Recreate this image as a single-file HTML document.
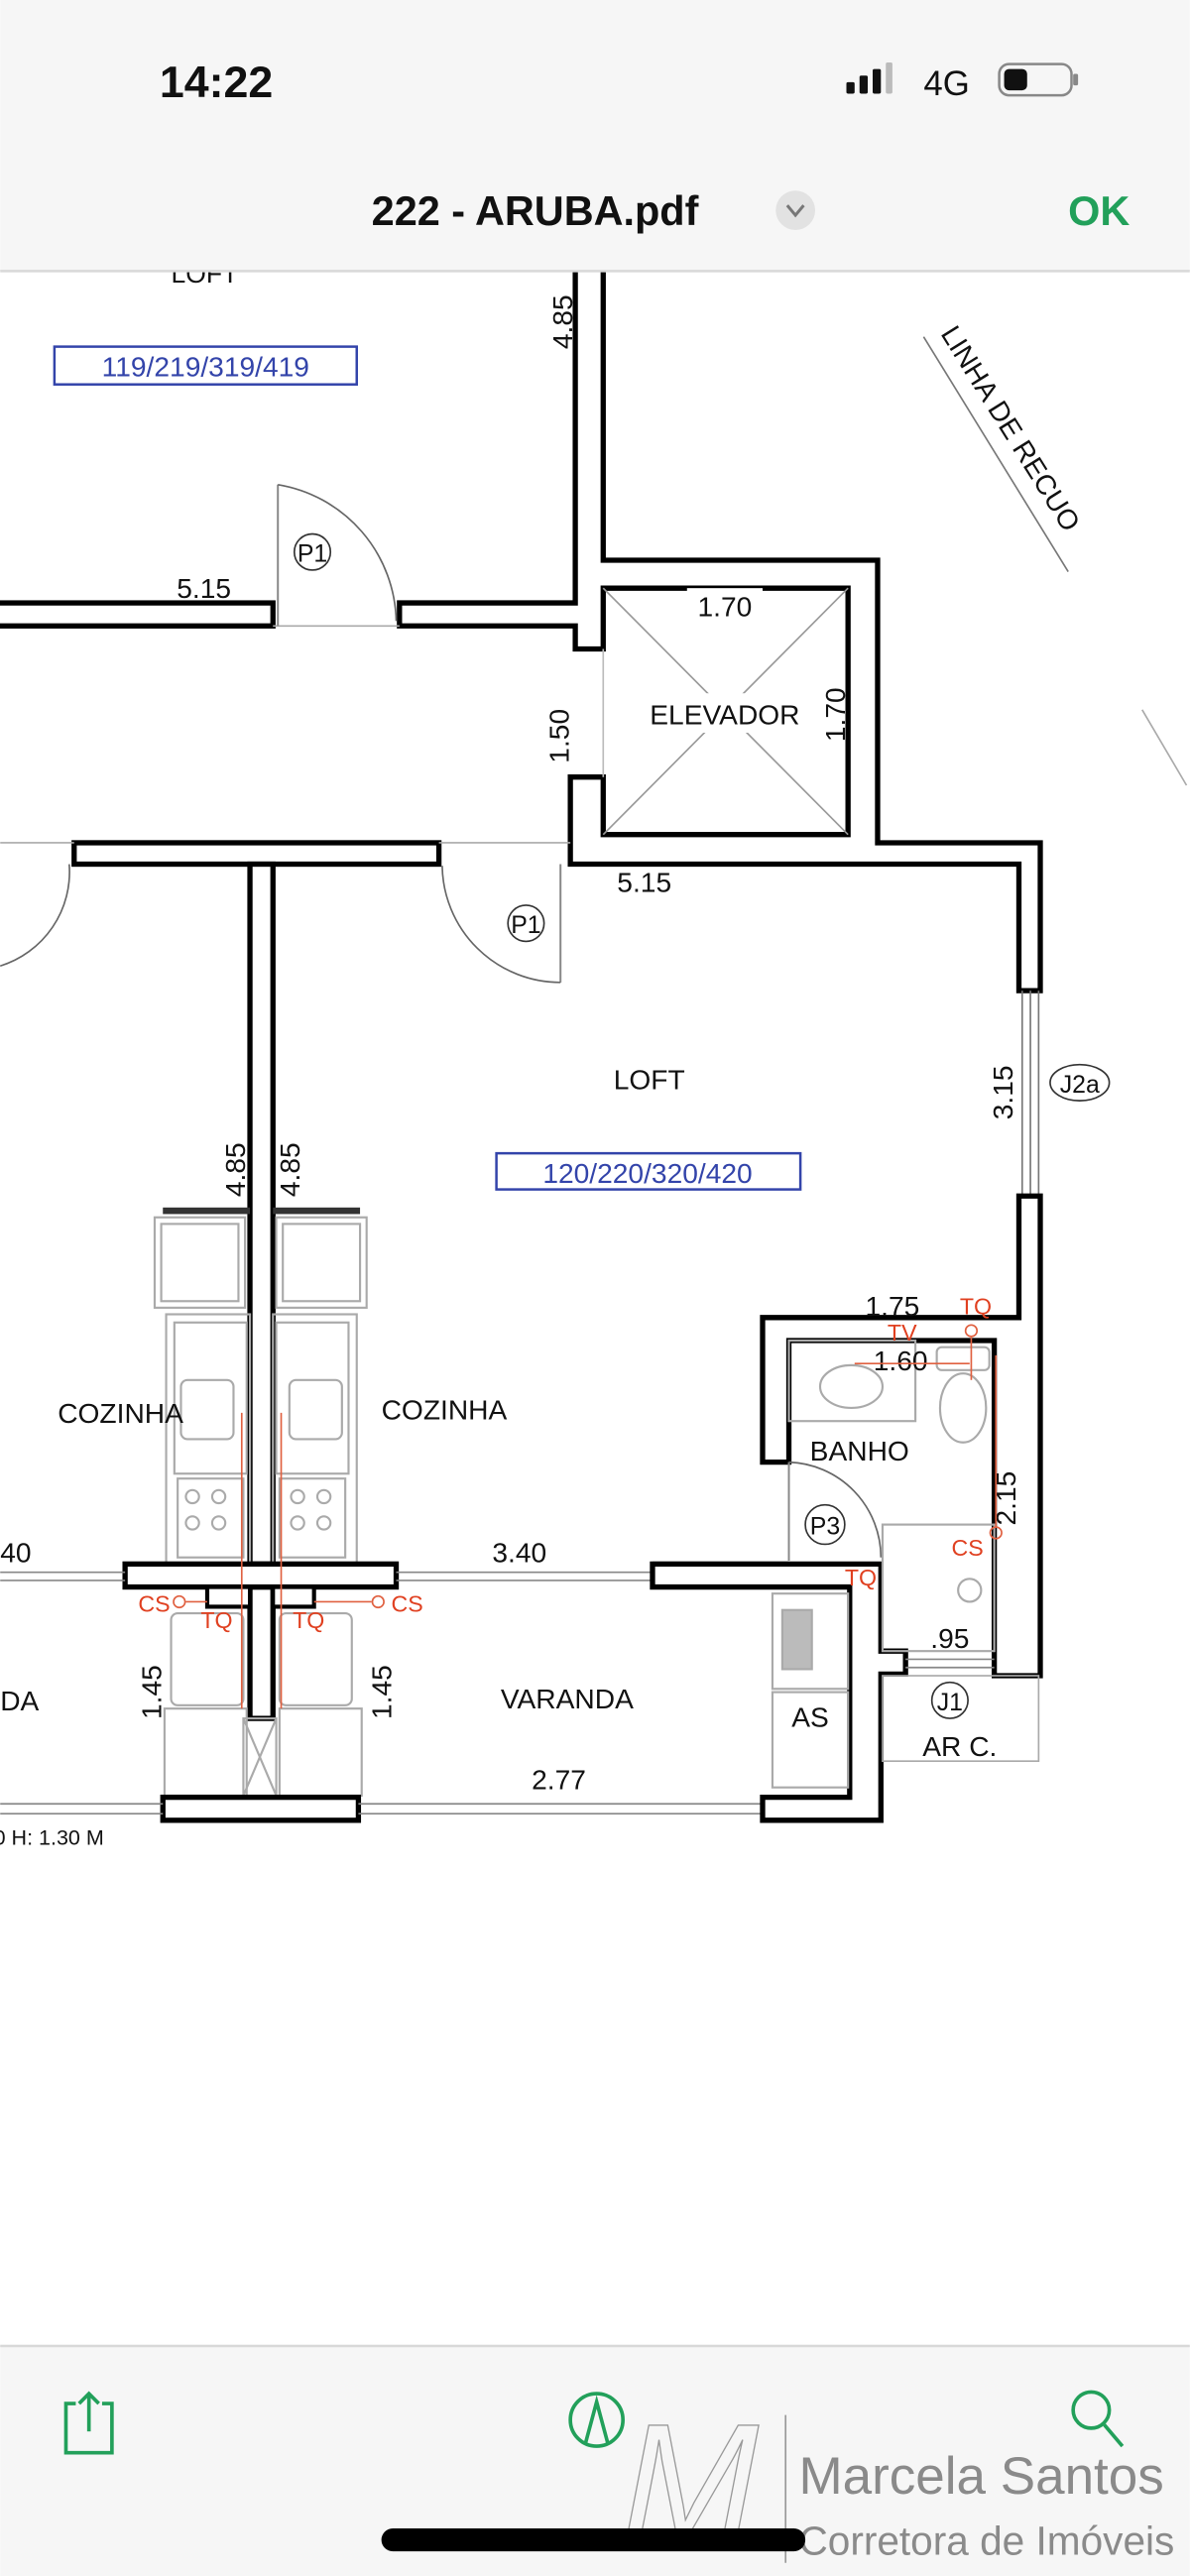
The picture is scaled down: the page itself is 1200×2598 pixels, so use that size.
<!DOCTYPE html>
<html><head><meta charset="utf-8"><style>
html,body{margin:0;padding:0;background:#fff;}
svg{display:block;}
text{font-family:"Liberation Sans",sans-serif;}
</style></head><body>
<svg width="1200" height="2598" viewBox="0 0 724 1568" xmlns="http://www.w3.org/2000/svg">
<rect x="0" y="0" width="724" height="1568" fill="#fff"/>

<!-- floor plan -->
<g font-size="16" fill="#111">
<text x="104" y="172" font-size="16">LOFT</text>
<rect x="33" y="211" width="184" height="23" fill="none" stroke="#3344aa" stroke-width="1.5"/>
<text x="125" y="229" text-anchor="middle" fill="#3344aa" font-size="17">119/219/319/419</text>
<text transform="translate(348,196) rotate(-90)" text-anchor="middle" font-size="17">4.85</text>

<path d="M350,160 L350,367 L243,367 L243,381 L350,381 L350,395 L367,395 L367,358 L516,358 L516,508 L367,508 L367,473 L347,473 L347,526 L620,526 L620,603 L633,603 L633,513 L534,513 L534,341 L367,341 L367,160" fill="#fff" stroke="#000" stroke-width="3.2"/>
<rect x="-5" y="367" width="171" height="14" fill="#fff" stroke="#000" stroke-width="3.2"/>
<line x1="166" y1="381" x2="243" y2="381" stroke="#aaa" stroke-width="1"/>
<line x1="169" y1="295" x2="169" y2="381" stroke="#888" stroke-width="1.2"/>
<path d="M169,295 A86,86 0 0 1 241,378" fill="none" stroke="#666" stroke-width="1"/>
<circle cx="190" cy="336" r="11" fill="#fff" stroke="#333" stroke-width="1"/>
<text x="190" y="342" text-anchor="middle" font-size="15">P1</text>
<text x="124" y="364" text-anchor="middle" font-size="17">5.15</text>

<line x1="367" y1="358" x2="516" y2="508" stroke="#999" stroke-width="1"/>
<line x1="516" y1="358" x2="367" y2="508" stroke="#999" stroke-width="1"/>
<rect x="388" y="422" width="106" height="24" fill="#fff"/>
<text x="441" y="441" text-anchor="middle" font-size="17">ELEVADOR</text>
<rect x="418" y="358" width="46" height="22" fill="#fff"/>
<text x="441" y="375" text-anchor="middle" font-size="17">1.70</text>
<text transform="translate(514,435) rotate(-90)" text-anchor="middle" font-size="17">1.70</text>
<text transform="translate(346,448) rotate(-90)" text-anchor="middle" font-size="17">1.50</text>
<line x1="367" y1="395" x2="367" y2="473" stroke="#bbb" stroke-width="1"/>

<line x1="562" y1="205" x2="650" y2="348" stroke="#777" stroke-width="1"/>
<text transform="translate(572,203) rotate(58)" font-size="17">LINHA DE RECUO</text>
<line x1="695" y1="432" x2="722" y2="478" stroke="#aaa" stroke-width="1"/>

<rect x="45" y="513" width="222" height="13" fill="#fff" stroke="#000" stroke-width="3.2"/>
<line x1="0" y1="513" x2="45" y2="513" stroke="#aaa" stroke-width="1"/>
<line x1="267" y1="513" x2="347" y2="513" stroke="#aaa" stroke-width="1"/>
<path d="M42,526 A60,60 0 0 1 0,588" fill="none" stroke="#666" stroke-width="1"/>
<line x1="341" y1="526" x2="341" y2="598" stroke="#888" stroke-width="1.2"/>
<path d="M269,527 A72,72 0 0 0 341,598" fill="none" stroke="#666" stroke-width="1"/>
<circle cx="320" cy="562" r="11" fill="#fff" stroke="#333" stroke-width="1"/>
<text x="320" y="568" text-anchor="middle" font-size="15">P1</text>
<text x="392" y="543" text-anchor="middle" font-size="17">5.15</text>

<rect x="152" y="526" width="14" height="426" fill="#fff" stroke="#000" stroke-width="3.2"/>
<rect x="152" y="966" width="14" height="80" fill="#fff" stroke="#000" stroke-width="3.2"/>
<text transform="translate(149,712) rotate(-90)" text-anchor="middle" font-size="17">4.85</text>
<text transform="translate(182,712) rotate(-90)" text-anchor="middle" font-size="17">4.85</text>
<rect x="99" y="735" width="53" height="4" fill="#333"/>
<rect x="166" y="735" width="53" height="4" fill="#333"/>

<g fill="none" stroke="#aaa" stroke-width="1.3">
<rect x="94" y="741" width="55" height="55"/><rect x="98" y="745" width="47" height="47"/>
<rect x="168" y="741" width="55" height="55"/><rect x="172" y="745" width="47" height="47"/>
<rect x="101" y="800" width="51" height="152"/><rect x="166" y="800" width="51" height="152"/>
<rect x="106" y="805" width="44" height="92"/><rect x="168" y="805" width="44" height="92"/>
<rect x="110" y="840" width="32" height="36" rx="4"/><rect x="176" y="840" width="32" height="36" rx="4"/>
<rect x="108" y="900" width="40" height="48"/><rect x="170" y="900" width="40" height="48"/>
<circle cx="117" cy="911" r="4"/><circle cx="133" cy="911" r="4"/><circle cx="117" cy="927" r="4"/><circle cx="133" cy="927" r="4"/>
<circle cx="181" cy="911" r="4"/><circle cx="197" cy="911" r="4"/><circle cx="181" cy="927" r="4"/><circle cx="197" cy="927" r="4"/>
<rect x="104" y="982" width="44" height="56" rx="4"/><rect x="170" y="982" width="44" height="56" rx="4"/>
<rect x="100" y="1040" width="50" height="53"/><rect x="170" y="1040" width="50" height="53"/>
<rect x="148" y="1046" width="20" height="47"/>
<line x1="148" y1="1046" x2="168" y2="1093"/><line x1="168" y1="1046" x2="148" y2="1093"/>
</g>
<text x="35" y="866" font-size="17">COZINHA</text>
<text x="232" y="864" font-size="17">COZINHA</text>

<rect x="76" y="952" width="165" height="14" fill="#fff" stroke="#000" stroke-width="3.2"/>
<rect x="126" y="966" width="26" height="12" fill="#fff" stroke="#000" stroke-width="2.5"/>
<rect x="166" y="966" width="25" height="12" fill="#fff" stroke="#000" stroke-width="2.5"/>
<line x1="0" y1="957" x2="76" y2="957" stroke="#888" stroke-width="1"/><line x1="0" y1="962" x2="76" y2="962" stroke="#888" stroke-width="1"/>
<line x1="241" y1="957" x2="397" y2="957" stroke="#888" stroke-width="1"/><line x1="241" y1="962" x2="397" y2="962" stroke="#888" stroke-width="1"/>
<text x="0" y="951" font-size="17">40</text>
<text x="316" y="951" text-anchor="middle" font-size="17">3.40</text>
<g fill="#e04020" font-size="14">
<text x="84" y="981">CS</text><text x="238" y="981">CS</text>
<text x="122" y="991">TQ</text><text x="178" y="991">TQ</text>
</g>
<g stroke="#e06040" stroke-width="1" fill="none">
<circle cx="109" cy="975" r="3.5"/><line x1="113" y1="975" x2="126" y2="975"/>
<circle cx="230" cy="975" r="3.5"/><line x1="226" y1="975" x2="191" y2="975"/>
<line x1="147" y1="860" x2="147" y2="1040"/><line x1="171" y1="860" x2="171" y2="1040"/>
</g>
<text transform="translate(98,1030) rotate(-90)" text-anchor="middle" font-size="17">1.45</text>
<text transform="translate(238,1030) rotate(-90)" text-anchor="middle" font-size="17">1.45</text>
<text x="0" y="1041" font-size="17">DA</text>
<text x="345" y="1040" text-anchor="middle" font-size="17">VARANDA</text>
<text x="340" y="1089" text-anchor="middle" font-size="17">2.77</text>
<text x="-4" y="1123" font-size="13">0 H: 1.30 M</text>

<rect x="99" y="1094" width="119" height="14" fill="#fff" stroke="#000" stroke-width="3.2"/>
<line x1="218" y1="1098" x2="464" y2="1098" stroke="#888" stroke-width="1"/><line x1="218" y1="1104" x2="464" y2="1104" stroke="#888" stroke-width="1"/>
<line x1="0" y1="1098" x2="99" y2="1098" stroke="#888" stroke-width="1"/><line x1="0" y1="1104" x2="99" y2="1104" stroke="#888" stroke-width="1"/>

<line x1="622" y1="603" x2="622" y2="728" stroke="#777" stroke-width="1"/>
<line x1="627" y1="603" x2="627" y2="728" stroke="#777" stroke-width="1"/>
<line x1="632" y1="603" x2="632" y2="728" stroke="#777" stroke-width="1"/>
<text transform="translate(616,665) rotate(-90)" text-anchor="middle" font-size="17">3.15</text>
<ellipse cx="657" cy="659" rx="18" ry="11" fill="#fff" stroke="#333" stroke-width="1"/>
<text x="657" y="665" text-anchor="middle" font-size="15">J2a</text>
<text x="395" y="663" text-anchor="middle" font-size="17">LOFT</text>
<rect x="302" y="702" width="185" height="22" fill="none" stroke="#3344aa" stroke-width="1.5"/>
<text x="394" y="720" text-anchor="middle" fill="#3344aa" font-size="17">120/220/320/420</text>

<path d="M620,728 L620,802 L464,802 L464,890 L480,890 L480,816 L605,816 L605,1008 L605,1020 L633,1020 L633,728 Z" fill="#fff" stroke="#000" stroke-width="3.2"/>
<path d="M397,952 L397,966 L517,966 L517,1094 L464,1094 L464,1108 L536,1108 L536,1019 L551,1019 L551,1005 L536,1005 L536,952 Z" fill="#fff" stroke="#000" stroke-width="3.2"/>
<line x1="397" y1="952" x2="480" y2="952" stroke="#000" stroke-width="3"/>
<line x1="551" y1="1010" x2="605" y2="1010" stroke="#888" stroke-width="1"/>
<line x1="551" y1="1015" x2="605" y2="1015" stroke="#888" stroke-width="1"/>
<rect x="537" y="1020" width="95" height="52" fill="none" stroke="#aaa" stroke-width="1"/>
<circle cx="578" cy="1035" r="11" fill="#fff" stroke="#333" stroke-width="1"/>
<text x="578" y="1041" text-anchor="middle" font-size="15">J1</text>
<text x="584" y="1069" text-anchor="middle" font-size="17">AR C.</text>
<text x="578" y="1003" text-anchor="middle" font-size="17">.95</text>

<line x1="480" y1="890" x2="480" y2="950" stroke="#888" stroke-width="1.2"/>
<path d="M480,890 A58,58 0 0 1 536,948" fill="none" stroke="#666" stroke-width="1"/>
<circle cx="502" cy="928" r="12" fill="#fff" stroke="#333" stroke-width="1"/>
<text x="502" y="934" text-anchor="middle" font-size="15">P3</text>
<text x="523" y="889" text-anchor="middle" font-size="17">BANHO</text>
<g fill="none" stroke="#aaa" stroke-width="1.3">
<rect x="480" y="816" width="77" height="49"/>
<ellipse cx="518" cy="844" rx="19" ry="13"/>
<rect x="570" y="820" width="32" height="14" rx="3"/>
<ellipse cx="586" cy="857" rx="14" ry="21"/>
<rect x="537" y="928" width="68" height="77"/>
<circle cx="590" cy="968" r="7"/>
<rect x="470" y="970" width="46" height="58"/>
<rect x="476" y="980" width="18" height="36" fill="#bbb"/>
<rect x="470" y="1030" width="46" height="58"/>
</g>
<text x="493" y="1051" text-anchor="middle" font-size="17">AS</text>
<text x="543" y="801" text-anchor="middle" font-size="17">1.75</text>
<text x="548" y="834" text-anchor="middle" font-size="17">1.60</text>
<text transform="translate(618,912) rotate(-90)" text-anchor="middle" font-size="17">2.15</text>
<g fill="#e04020" font-size="14">
<text x="584" y="800">TQ</text><text x="540" y="816">TV</text>
<text x="579" y="947">CS</text><text x="514" y="965">TQ</text>
</g>
<g stroke="#e06040" stroke-width="1" fill="none">
<circle cx="591" cy="810" r="3.5"/><line x1="591" y1="814" x2="591" y2="840"/>
<line x1="606" y1="825" x2="606" y2="930"/><circle cx="606" cy="933" r="3.5"/>
<line x1="520" y1="830" x2="590" y2="830"/>
</g>
</g>

<!-- header (on top) -->
<rect x="0" y="0" width="724" height="165" fill="#f6f6f6"/>
<line x1="0" y1="165" x2="724" y2="165" stroke="#d8d8d8" stroke-width="1.5"/>
<text x="97" y="59" font-size="27" font-weight="bold" fill="#111">14:22</text>
<rect x="515" y="50" width="5" height="7" rx="1" fill="#111"/>
<rect x="523" y="46" width="5" height="11" rx="1" fill="#111"/>
<rect x="531" y="42" width="5" height="15" rx="1" fill="#111"/>
<rect x="539" y="38" width="4" height="19" rx="1" fill="#bbb"/>
<text x="562" y="58" font-size="21" fill="#111">4G</text>
<rect x="608" y="39" width="44" height="19" rx="6" fill="none" stroke="#888" stroke-width="1.5"/>
<rect x="611" y="42" width="14" height="13" rx="3" fill="#111"/>
<rect x="653" y="45" width="3" height="7" rx="1" fill="#888"/>
<text x="226" y="137" font-size="25" font-weight="bold" fill="#111">222 - ARUBA.pdf</text>
<circle cx="484" cy="128" r="12" fill="#e2e2e2"/>
<polyline points="479,125 484,131 489,125" fill="none" stroke="#777" stroke-width="1.8"/>
<text x="650" y="137" font-size="25" font-weight="bold" fill="#22a05a">OK</text>

<!-- footer -->
<rect x="0" y="1428" width="724" height="140" fill="#f6f6f6"/>
<line x1="0" y1="1428" x2="724" y2="1428" stroke="#d8d8d8" stroke-width="1.5"/>
<g fill="none" stroke="#22a05a" stroke-width="2.2">
<path d="M46,1463 L40,1463 L40,1493 L68,1493 L68,1463 L62,1463"/>
<line x1="54" y1="1457" x2="54" y2="1480"/>
<polyline points="48,1463 54,1457 60,1463"/>
<circle cx="363" cy="1473" r="16"/>
<path d="M356,1488 L363,1462 L370,1488"/>
<circle cx="664" cy="1467" r="11"/>
<line x1="672" y1="1476" x2="683" y2="1489"/>
</g>
<text x="420" y="1545" text-anchor="middle" font-family="Liberation Serif,serif" font-style="italic" font-size="100" fill="none" stroke="#999" stroke-width="0.8">M</text>
<line x1="478" y1="1470" x2="478" y2="1560" stroke="#999" stroke-width="1"/>
<text x="486" y="1518" font-size="32" fill="#8a8a8a">Marcela Santos</text>
<text x="486" y="1555" font-size="24.5" fill="#8a8a8a">Corretora de Imóveis</text>
<rect x="232" y="1539" width="258" height="14" rx="7" fill="#000"/>
</svg>
</body></html>
